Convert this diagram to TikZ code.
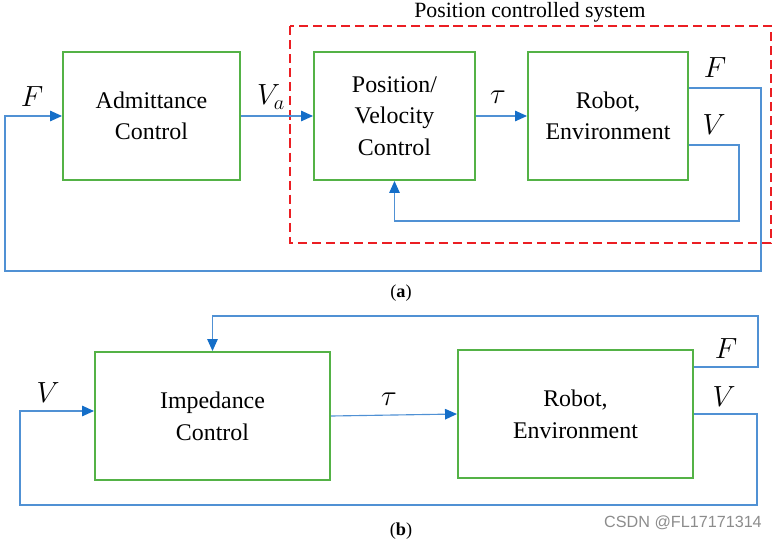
\documentclass[tikz,border=0pt]{standalone}
\usepackage{fontspec}
\setmainfont{Liberation Serif}
\newfontfamily\markfont{Liberation Sans}
\usetikzlibrary{arrows.meta}

\definecolor{boxgreen}{RGB}{84,178,70}
\definecolor{wireblue}{RGB}{80,145,212}
\definecolor{tipblue}{RGB}{20,110,200}
\definecolor{dashred}{RGB}{235,30,35}

\begin{document}
\begin{tikzpicture}[x=0.025cm, y=-0.025cm,
    >={Triangle[length=8.5pt, width=7.5pt, color=tipblue]},
    block/.style={draw=boxgreen, line width=1.4pt, align=center, inner sep=0pt,
        minimum height=3.2cm, font=\fontsize{17}{22.5}\selectfont},
    sig/.style={draw=wireblue, line width=0.8pt},
    lbl/.style={font=\fontsize{21}{24}\selectfont}]
    \useasboundingbox (0,0) rectangle (776,540);
    % (a) Admittance control
    \node[block, minimum width=4.425cm] (adm) at (151.5,116) {Admittance\\Control};
    \node[block, minimum width=4.025cm] (pos) at (394.5,116) {Position/\\Velocity\\Control};
    \node[block, minimum width=4cm] (robA) at (608,116) {Robot,\\Environment};
    % Position controlled system
    \draw[dashred, line width=1.8pt, dash pattern=on 6.5pt off 3.5pt] (290,26) rectangle (771,243);
    \node[font=\fontsize{15.5}{18}\selectfont] (pcs) at (530,12) {Position controlled system};
%
    \draw[sig, ->] (adm.east) -- (pos.west);
    \draw[sig, ->] (pos.east) -- (robA.west);
    \draw[sig, ->] ([yshift=-0.725cm]robA.east) -| (739,221) -| (pos.south);
    \draw[sig, ->] ([yshift=0.7cm]robA.east) -| (761,271) -| (5,116) -- (adm.west);
    \node[lbl] at (32,97) {$F$};
    \node[lbl] at (271,97) {$V_a$};
    \node[lbl] at (498,97) {$\tau$};
    \node[lbl] at (715,68) {$F$};
    \node[lbl] at (714,125) {$V$};
    \node[font=\fontsize{13}{15}\selectfont] (capa) at (401,293) {(\textbf{a})};
%
    % (b) Impedance control
    \node[block, minimum width=5.875cm] (imp) at (212.5,416) {Impedance\\Control};
    \node[block, minimum width=5.875cm] (robB) at (575.5,414) {Robot,\\Environment};
    \draw[sig, ->] (imp.east) -- (robB.west);
    \draw[sig, ->] ([yshift=1.175cm]robB.east) -| (758,316) -| (imp.north);
    \draw[sig, ->] (robB.east) -| (757,505) -- (20,505) |- ([yshift=0.125cm]imp.west);
    \node[lbl] at (48,393) {$V$};
    \node[lbl] at (389,399) {$\tau$};
    \node[lbl] at (726,349) {$F$};
    \node[lbl] at (724,397) {$V$};
    \node[font=\fontsize{13}{15}\selectfont] (capb) at (401,531) {(\textbf{b})};
    \node[font=\markfont\fontsize{11.5}{13}\selectfont, text=black!45] (mark) at (683,523) {CSDN @FL17171314};
\end{tikzpicture}
\end{document}
